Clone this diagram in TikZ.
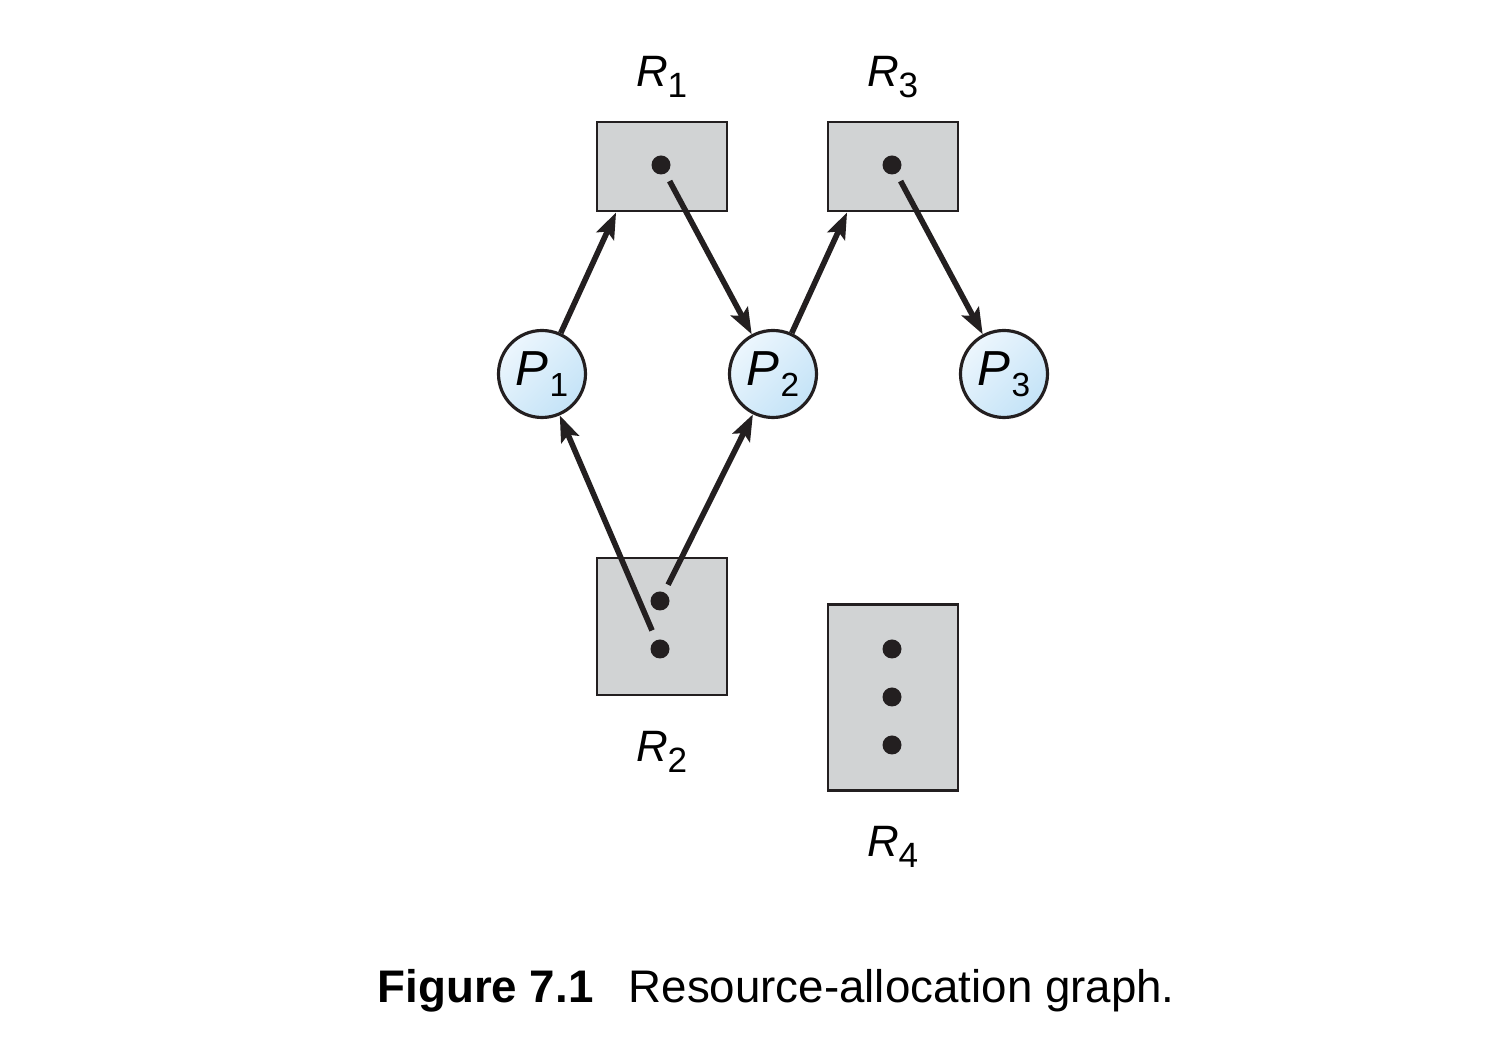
\documentclass[tikz,border=0pt]{standalone}
\usepackage{fontspec}
\setmainfont{Liberation Sans}
\usetikzlibrary{arrows.meta}
\definecolor{resgray}{RGB}{209,211,212}
\definecolor{inkblack}{RGB}{35,31,32}
\definecolor{proclight}{RGB}{236,246,253}
\definecolor{procdark}{RGB}{196,227,247}
\newcommand{\rname}[1]{\textit{R}\kern-0.02em\raisebox{-0.11cm}{\fontsize{10}{10}\selectfont #1}}
\newcommand{\pname}[1]{\textit{P}\kern0.02em\raisebox{-0.11cm}{\fontsize{9.5}{9.5}\selectfont #1}}
\begin{document}
\begin{tikzpicture}[
  res/.style={draw=inkblack, line width=0.8pt, fill=resgray, inner sep=0pt, minimum width=1.30cm},
  proc/.style={circle, draw=inkblack, line width=0.9pt, top color=proclight, bottom color=procdark, shading angle=45, minimum size=0.87cm, inner sep=0pt, font=\fontsize{14}{14}\selectfont},
  inst/.style={circle, fill=inkblack, inner sep=0pt, minimum size=0.19cm},
  lab/.style={anchor=base, inner sep=0pt, font=\fontsize{12.5}{12.5}\selectfont},
  alloc/.style={draw=inkblack, line width=1.6pt, -{Stealth[length=0.26cm,width=0.19cm,inset=0.05cm]}}
]
 \useasboundingbox (0,0) rectangle (14.94,-10.60);
 \node[res, minimum height=0.89cm] (R1) at (6.62,-1.665) {};
 \node[res, minimum height=0.89cm] (R3) at (8.93,-1.665) {};
 \node[res, minimum height=1.37cm] (R2) at (6.62,-6.265) {};
 \node[res, minimum height=1.86cm] (R4) at (8.93,-6.975) {};
 \node[inst] (r1a) at (6.61,-1.65) {};
 \node[inst] (r3a) at (8.92,-1.65) {};
 \node[inst] (r2a) at (6.60,-6.01) {};
 \node[inst] (r2b) at (6.60,-6.49) {};
 \node[inst] (r4a) at (8.92,-6.49) {};
 \node[inst] (r4b) at (8.92,-6.97) {};
 \node[inst] (r4c) at (8.92,-7.45) {};
 \node[proc] (P1) at ( 5.42,-3.74) {\pname{1}};
 \node[proc] (P2) at ( 7.73,-3.74) {\pname{2}};
 \node[proc] (P3) at (10.04,-3.74) {\pname{3}};
 \node[lab] (r1lab) at (6.62,-0.87) {\rname{1}};
 \node[lab] (r3lab) at (8.93,-0.87) {\rname{3}};
 \node[lab] (r2lab) at (6.62,-7.62) {\rname{2}};
 \node[lab] (r4lab) at (8.93,-8.57) {\rname{4}};
 \path (P1) edge[alloc] (R1.225);
 \path (r1a) edge[alloc, shorten <=0.08cm] (P2);
 \path (P2) edge[alloc] (R3.225);
 \path (r3a) edge[alloc, shorten <=0.08cm] (P3);
 \path (r2b) edge[alloc, shorten <=0.1cm] (P1);
 \path (r2a) edge[alloc, shorten <=0.08cm] (P2);
 \node[anchor=base west, inner sep=0pt, font=\fontsize{13}{13}\selectfont\bfseries] (fig) at (3.77,-10.03) {Figure 7.1};
 \node[anchor=base west, inner sep=0pt, font=\fontsize{13}{13}\selectfont] (caption) at (6.28,-10.03) {Resource-allocation graph.};
\end{tikzpicture}
\end{document}
